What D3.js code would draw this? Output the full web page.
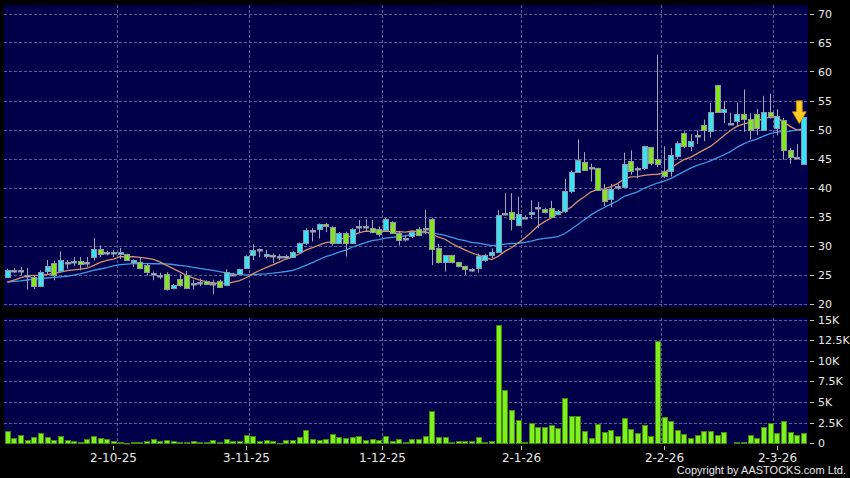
<!DOCTYPE html>
<html>
<head>
<meta charset="utf-8">
<script src="https://cdn.jsdelivr.net/npm/d3@7"></script>
<style>
  html, body { margin: 0; padding: 0; background: #000; }
  svg { display: block; }
</style>
</head>
<body>
<div id="chart"></div>
<script>
// daily candles, oldest first (121 sessions)
var open  = [24.5,25.7,25.6,24.9,24.5,23.05,25.6,27.0,25.6,27.1, 27.2,27.4,27.2,28.0,29.4,28.8,28.7,28.6,28.5,27.1,
             27.2,26.6,25.2,25.0,25.1,22.6,24.25,24.9,23.5,23.7, 23.9,23.5,23.9,23.2,25.1,25.1,26.1,28.3,29.35,28.2,
             28.3,28.2,28.2,28.1,28.9,30.4,32.6,32.8,33.7,33.2, 30.5,32.1,30.5,33.3,33.3,33.1,32.9,32.6,34.0,32.1,
             31.3,31.6,32.9,33.0,34.5,29.5,27.2,28.3,27.1,26.4, 26.0,26.1,27.5,28.3,28.9,35.6,35.8,33.5,34.9,35.4,
             36.7,36.3,36.4,35.4,35.9,39.4,42.7,44.4,43.5,43.3, 39.8,38.1,40.2,40.05,44.5,43.3,43.35,46.9,44.9,42.8,
             42.8,45.4,49.4,47.2,49.05,50.8,49.7,57.6,53.0,51.2, 51.4,52.7,51.8,52.7,50.0,53.0,50.25,51.7,46.4,45.2,
             44.1];
var high  = [26.0,26.1,26.3,26.1,24.8,25.7,27.5,27.4,29.0,27.5, 28.0,28.0,28.0,31.3,30.0,29.1,29.2,29.6,28.6,27.6,
             28.0,26.8,25.5,25.3,25.4,23.4,25.1,25.6,24.1,24.3, 24.0,24.1,24.1,25.9,25.3,26.0,28.3,30.25,29.5,29.2,
             28.6,28.5,28.4,29.0,30.5,33.0,33.0,33.8,33.9,33.3, 32.3,32.4,33.0,34.4,34.5,34.4,33.3,34.7,34.2,32.5,
             31.7,32.5,33.2,36.1,34.8,30.3,28.3,28.4,27.2,26.5, 26.1,28.6,28.5,29.5,36.1,39.0,39.0,38.4,35.2,37.8,
             37.5,36.5,37.7,36.1,41.5,42.9,48.3,46.1,44.1,43.4, 40.6,40.6,40.6,46.0,46.4,43.6,47.2,47.0,62.9,47.1,
             46.8,48.0,49.7,49.2,49.85,51.7,54.6,57.7,54.9,52.9, 54.6,56.9,52.8,53.5,55.8,56.2,53.5,52.0,46.8,47.5,
             52.3];
var low   = [24.4,25.3,24.8,22.4,22.5,22.8,25.1,24.0,25.4,26.0, 26.5,25.7,26.3,27.4,28.0,28.3,28.0,27.7,27.3,26.3,
             25.9,24.8,24.0,24.2,22.2,22.4,22.9,22.5,22.4,23.0, 23.2,21.6,22.7,23.0,24.9,25.0,26.0,27.5,28.0,27.8,
             27.0,27.5,27.8,27.9,28.8,30.1,30.7,31.2,32.3,30.0, 30.3,28.1,30.3,32.2,32.4,32.1,31.5,32.4,32.0,30.0,
             30.7,31.3,31.6,32.0,26.6,26.9,25.5,26.9,26.2,24.9, 25.4,25.3,27.2,27.8,28.8,35.2,32.6,33.3,34.6,34.6,
             33.0,35.5,34.7,35.2,35.6,39.0,42.5,43.0,41.0,39.5, 36.8,36.6,39.6,39.9,42.2,41.6,43.0,43.8,43.5,41.6,
             41.9,44.9,46.8,46.3,47.5,48.0,48.6,53.0,51.1,51.1, 50.6,49.6,48.3,49.0,50.0,51.9,49.0,44.8,44.1,45.0,
             44.0];
var close = [25.8,25.6,25.7,24.8,23.0,25.4,26.5,25.0,27.5,27.2, 27.4,26.8,27.2,29.4,28.6,28.8,28.8,28.9,27.5,27.5,
             26.1,25.4,25.2,25.0,22.5,23.2,23.2,22.7,23.5,23.7, 23.4,23.5,22.9,25.5,25.1,25.9,28.2,29.3,29.4,28.6,
             28.3,28.2,28.2,28.8,30.4,32.6,32.6,33.7,33.4,30.4, 32.1,30.5,32.8,33.3,33.3,32.4,32.0,34.5,32.1,31.0,
             31.3,32.3,31.8,33.0,29.4,27.1,28.3,27.1,26.4,25.9, 26.0,28.2,28.3,28.9,35.2,35.6,34.5,35.4,34.9,35.8,
             36.7,35.8,35.0,35.9,39.4,42.7,44.8,43.1,43.4,39.65, 37.7,39.8,40.2,44.0,42.8,43.3,47.1,44.2,44.1,42.0,
             45.65,47.7,47.2,48.0,49.05,49.85,53.1,53.1,53.5,51.2, 52.7,51.8,50.0,50.25,53.1,52.4,52.3,46.4,45.25,45.2,
             52.2];
// turnover (shares)
var volume = [1500,650,970,400,770,1250,720,360,890,440, 280,200,490,930,690,490,240,160,80,200,
              200,280,570,280,400,280,120,200,320,200, 120,400,200,490,320,280,970,890,240,400,
              280,80,400,400,770,1620,530,400,570,1090, 770,690,770,850,440,570,440,890,320,570,
              160,530,530,890,3930,730,770,200,280,320, 320,810,200,280,14350,6480,4050,2800,120,2430,
              1980,1940,2230,1820,5470,3320,3320,1460,650,2310, 1340,1620,930,3080,1700,1220,2230,930,12440,3240,
              2750,1620,1090,690,1010,1500,1500,970,1340,0, 120,120,970,690,1940,2430,1300,2750,1380,970,
              1300];
// moving averages before a full window exists
var ma10Head = [23.7,24.05,24.4,24.8,24.85,24.9,25.0,25.2,25.4];
var ma20Head = [23.7,23.8,23.9,24.05,24.2,24.3,24.4,24.5,24.6,24.7, 24.9,25.1,25.4,25.7,25.95,26.2,26.5,26.7,26.8];

// month starts: label position and grid position (in session index units)
var dateTickIdx   = [16, 36, 56.5, 77.5, 99, 116];
var dateGridIdx   = [16.5, 36.5, 56.5, 77.5, 98.5, 115.5];
var dateTickLabel = ["2-10-25", "3-11-25", "1-12-25", "2-1-26", "2-2-26", "2-3-26"];
var priceTicks  = [20, 25, 30, 35, 40, 45, 50, 55, 60, 65, 70];
var volumeTicks = [0, 2500, 5000, 7500, 10000, 12500, 15000];
var volumeTickLabel = ["0", "2.5K", "5K", "7.5K", "10K", "12.5K", "15K"];

var W = 850, H = 478;
var left = 4, right = 808;
var priceTop = 5, priceBottom = 307;
var volTop = 318, volBottom = 444;

var svg = d3.select("#chart").append("svg")
  .attr("width", W).attr("height", H)
  .style("font-family", "'DejaVu Sans', Verdana, sans-serif");

svg.append("rect").attr("width", W).attr("height", H).attr("fill", "#000");

var x = d3.scaleLinear().domain([0, close.length - 1]).range([7.3, 803.3]);
var y = d3.scaleLinear().domain([20, 70]).range([303.5, 13.5]);
var yv = d3.scaleLinear().domain([0, 15000]).range([443.3, 319.5]);

var bodyW = 5;

var data = close.map(function(c, i) {
  return { i: i, o: open[i], h: high[i], l: low[i], c: c, v: volume[i] };
});

function sma(n, head) {
  return close.map(function(c, i) {
    if (i < n - 1) return head[i];
    return d3.mean(close.slice(i - n + 1, i + 1));
  });
}
var ma10 = sma(10, ma10Head);
var ma20 = sma(20, ma20Head);

// panels
svg.append("rect").attr("x", left).attr("y", priceTop)
  .attr("width", right - left).attr("height", priceBottom - priceTop).attr("fill", "#00004a");
svg.append("rect").attr("x", left).attr("y", volTop)
  .attr("width", right - left).attr("height", volBottom - volTop).attr("fill", "#00004a");

var gridColor = "#5c5c98";

// horizontal grid
svg.append("g").selectAll("line").data(priceTicks).enter().append("line")
  .attr("x1", left).attr("x2", right)
  .attr("y1", function(d) { return Math.round(y(d)) + 0.5; })
  .attr("y2", function(d) { return Math.round(y(d)) + 0.5; })
  .attr("stroke", gridColor).attr("stroke-dasharray", "3,2");
svg.append("g").selectAll("line").data(volumeTicks.slice(1)).enter().append("line")
  .attr("x1", left).attr("x2", right)
  .attr("y1", function(d) { return Math.round(yv(d)) + 0.5; })
  .attr("y2", function(d) { return Math.round(yv(d)) + 0.5; })
  .attr("stroke", gridColor).attr("stroke-dasharray", "3,2");

// vertical grid
dateGridIdx.forEach(function(t) {
  var gx = Math.round(x(t)) + 0.5;
  svg.append("line").attr("x1", gx).attr("x2", gx).attr("y1", priceTop).attr("y2", priceBottom)
    .attr("stroke", gridColor).attr("stroke-dasharray", "3,2");
  svg.append("line").attr("x1", gx).attr("x2", gx).attr("y1", volTop).attr("y2", volBottom)
    .attr("stroke", gridColor).attr("stroke-dasharray", "3,2");
});

// volume bars
svg.append("g").selectAll("rect").data(data.filter(function(d) { return d.v > 0; })).enter().append("rect")
  .attr("x", function(d) { return Math.round(x(d.i) - bodyW / 2) + 0.5; })
  .attr("y", function(d) { return Math.round(yv(d.v)) + 0.5; })
  .attr("width", bodyW)
  .attr("height", function(d) { return Math.max(0.5, Math.round(yv(0)) - Math.round(yv(d.v))); })
  .attr("fill", "#7ff01e").attr("stroke", "#3f8c10").attr("stroke-width", 1);

// moving averages
var maLine = d3.line().x(function(d, i) { return x(i); }).y(function(d) { return y(d); });
svg.append("path").attr("d", maLine(ma20)).attr("fill", "none")
  .attr("stroke", "#3d9be6").attr("stroke-width", 1.3);
svg.append("path").attr("d", maLine(ma10)).attr("fill", "none")
  .attr("stroke", "#d9906c").attr("stroke-width", 1.3);

// candles
var wickColor = "#a4a4b4";
var cg = svg.append("g");
cg.selectAll("line").data(data).enter().append("line")
  .attr("x1", function(d) { return Math.round(x(d.i)) + 0.5; })
  .attr("x2", function(d) { return Math.round(x(d.i)) + 0.5; })
  .attr("y1", function(d) { return y(d.h); })
  .attr("y2", function(d) { return y(d.l); })
  .attr("stroke", wickColor).attr("stroke-width", 1);

cg.selectAll("rect").data(data).enter().append("rect")
  .attr("x", function(d) { return Math.round(x(d.i) - bodyW / 2) + 0.5; })
  .attr("y", function(d) { return Math.round(y(Math.max(d.o, d.c))) + 0.5; })
  .attr("width", bodyW)
  .attr("height", function(d) { return Math.max(1.5, Math.round(y(Math.min(d.o, d.c))) - Math.round(y(Math.max(d.o, d.c)))); })
  .attr("fill", function(d) {
    if (Math.abs(d.c - d.o) < 0.1) return "#b4b4c0";
    return d.c > d.o ? "#36e2f4" : "#84e41e";
  })
  .attr("stroke", "#8c98a8").attr("stroke-width", 1);

// last-price arrow
var last = data[data.length - 1];
var ax = x(last.i) - 4, ay = y(last.c) - 16;
svg.append("path")
  .attr("d", "M" + (ax - 3) + "," + ay + "h6v11h4l-7,12l-7,-12h4z")
  .attr("fill", "#ffcc22").attr("stroke", "#c08010").attr("stroke-width", 0.8);

// right axis: price and volume
var ra = svg.append("g").attr("fill", "#e8e8e8").style("font-size", "11px");
priceTicks.forEach(function(t) {
  svg.append("line").attr("x1", 810).attr("x2", 814).attr("y1", Math.round(y(t)) + 0.5).attr("y2", Math.round(y(t)) + 0.5)
    .attr("stroke", "#c8c8c8");
  ra.append("text").attr("x", 818).attr("y", y(t) + 4).text(t);
});
volumeTicks.forEach(function(t, k) {
  svg.append("line").attr("x1", 810).attr("x2", 814).attr("y1", Math.round(yv(t)) + 0.5).attr("y2", Math.round(yv(t)) + 0.5)
    .attr("stroke", "#c8c8c8");
  ra.append("text").attr("x", 818).attr("y", yv(t) + 4).text(volumeTickLabel[k]);
});

// date axis
var da = svg.append("g").attr("fill", "#e8e8e8").style("font-size", "12px").attr("text-anchor", "middle");
dateTickIdx.forEach(function(t, k) {
  var tx = Math.round(x(t)) + 0.5;
  svg.append("line").attr("x1", tx).attr("x2", tx).attr("y1", 446).attr("y2", 450).attr("stroke", "#c8c8c8");
  da.append("text").attr("x", tx).attr("y", 462).text(dateTickLabel[k]);
});

svg.append("text").attr("x", 846).attr("y", 474).attr("text-anchor", "end")
  .attr("fill", "#e8e8e8").style("font-size", "11px")
  .style("font-family", "'Liberation Sans', Arial, sans-serif")
  .text("Copyright by AASTOCKS.com Ltd.");
</script>
</body>
</html>
